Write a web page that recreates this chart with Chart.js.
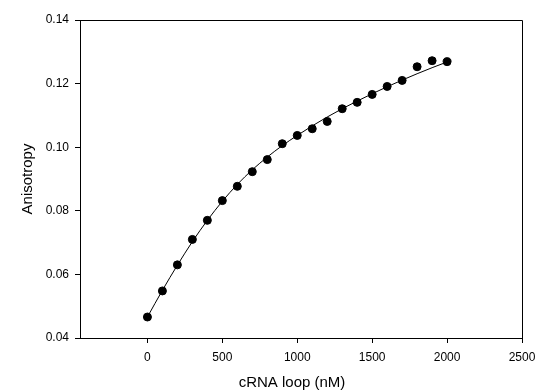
<!DOCTYPE html>
<html lang="en">
<head>
  <meta charset="UTF-8">
  <title>Anisotropy vs cRNA loop</title>
  <script src="https://cdn.jsdelivr.net/npm/chart.js"></script>
  <style>
    html, body { margin: 0; padding: 0; background: #fff; }
    #wrap { width: 537px; height: 392px; }
  </style>
</head>
<body>
  <div id="wrap"><canvas id="anisoChart" width="537" height="392"></canvas></div>

  <script>
    // measured points (cRNA loop, nM)
    const concentrations = [0, 100, 200, 300, 400, 500, 600, 700, 800, 900, 1000,
      1100, 1200, 1300, 1400, 1500, 1600, 1700, 1800, 1900, 2000];
    const anisotropy = [0.0466, 0.0548, 0.0630, 0.0710, 0.0770, 0.0832, 0.0877, 0.0923, 0.0961, 0.1011, 0.1037,
      0.1058, 0.1081, 0.1121, 0.1141, 0.1166, 0.1191, 0.1210, 0.1253, 0.1272, 0.1269];

    // fitted curve at the same x values
    const fitX = concentrations;
    const fitY = [0.0466, 0.0550, 0.0629, 0.0703, 0.0770, 0.0830, 0.0883, 0.0929, 0.0969, 0.1005, 0.1037,
      0.1067, 0.1095, 0.1121, 0.1145, 0.1168, 0.1190, 0.1211, 0.1231, 0.1250, 0.1268];

    const xTicks = [0, 500, 1000, 1500, 2000, 2500];
    const yTicks = [0.04, 0.06, 0.08, 0.10, 0.12, 0.14];
    const xTitle = 'cRNA loop (nM)';

    const fontFamily = '"Liberation Sans", Arial, sans-serif';

    // top/right sides of the box, plus the x title (sits a bit left of centre in the original)
    const frame = {
      id: 'frame',
      afterDraw(chart) {
        const { ctx, chartArea: a } = chart;
        ctx.save();
        ctx.strokeStyle = '#000';
        ctx.lineWidth = 1;
        ctx.beginPath();
        ctx.moveTo(Math.round(a.left) + 0.5, Math.round(a.top) + 0.5);
        ctx.lineTo(Math.round(a.right) + 0.5, Math.round(a.top) + 0.5);
        ctx.lineTo(Math.round(a.right) + 0.5, Math.round(a.bottom) + 0.5);
        ctx.stroke();

        ctx.fillStyle = '#000';
        ctx.font = '15px ' + fontFamily;
        ctx.textAlign = 'center';
        ctx.textBaseline = 'middle';
        ctx.fillText(xTitle, (a.left + a.right) / 2 - 9, a.bottom + 45);
        ctx.restore();
      }
    };

    new Chart(document.getElementById('anisoChart'), {
      type: 'scatter',
      data: {
        datasets: [
          {
            label: 'fit',
            data: fitX.map((x, i) => ({ x, y: fitY[i] })),
            showLine: true,
            borderColor: '#000',
            borderWidth: 1,
            pointRadius: 0,
            tension: 0.4,
            cubicInterpolationMode: 'monotone'
          },
          {
            label: 'data',
            data: concentrations.map((x, i) => ({ x, y: anisotropy[i] })),
            backgroundColor: '#000',
            borderColor: '#000',
            pointRadius: 4,
            pointHoverRadius: 4
          }
        ]
      },
      options: {
        responsive: false,
        animation: false,
        events: [],
        layout: { padding: { left: 0, right: 15, top: 20, bottom: 0 } },
        plugins: { legend: { display: false }, tooltip: { enabled: false } },
        scales: {
          x: {
            type: 'linear',
            min: -450,
            max: 2500,
            afterBuildTicks: s => { s.ticks = xTicks.map(v => ({ value: v })); },
            afterFit: s => { s.height = 54; s.paddingLeft = 0; s.paddingRight = 0; },
            grid: { drawOnChartArea: false, drawTicks: true, tickLength: 5, color: '#000' },
            border: { display: true, color: '#000', width: 1 },
            ticks: { color: '#000', padding: 7, maxRotation: 0, font: { family: fontFamily, size: 12 },
                     callback: v => String(v) },
            title: { display: false }
          },
          y: {
            type: 'linear',
            min: 0.04,
            max: 0.14,
            afterBuildTicks: s => { s.ticks = yTicks.map(v => ({ value: v })); },
            afterFit: s => { s.width = 80; s.paddingTop = 0; s.paddingBottom = 0; },
            grid: { drawOnChartArea: false, drawTicks: true, tickLength: 5, color: '#000' },
            border: { display: true, color: '#000', width: 1 },
            ticks: { color: '#000', padding: 6, font: { family: fontFamily, size: 12 },
                     callback: v => v.toFixed(2) },
            title: { display: true, text: 'Anisotropy', color: '#000',
                     padding: { top: 19, bottom: 0 }, font: { family: fontFamily, size: 15 } }
          }
        }
      },
      plugins: [frame]
    });
  </script>
</body>
</html>
